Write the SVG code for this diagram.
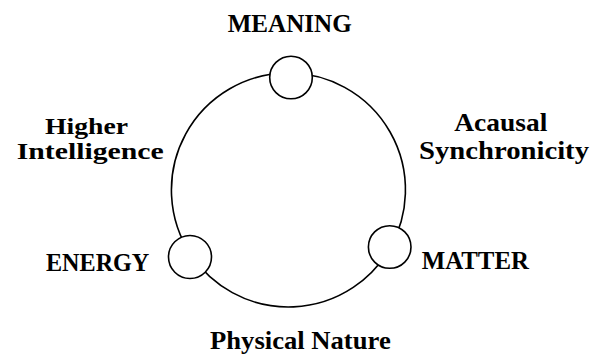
<svg xmlns="http://www.w3.org/2000/svg" width="591" height="356" viewBox="0 0 591 356">
<style>
.ring{fill:none;stroke:#000;stroke-width:1.6}
.node{fill:#fff;stroke:#000;stroke-width:1.6}
text{font-family:"Liberation Serif","Times New Roman",serif;font-weight:bold;font-size:26px;fill:#000}
.sm{font-size:24px}
</style>
<rect width="591" height="356" fill="#fff"/>
<g id="connectors">
<path class="ring" d="M291.1,73 A117,117 0 0 1 390.5,247.2"/>
<path class="ring" d="M390.5,247.2 A117,117 0 0 1 191.7,255.8"/>
<path class="ring" d="M191.7,255.8 A117,117 0 0 1 291.1,73"/>
<text class="sm" x="45" y="134" textLength="83" lengthAdjust="spacingAndGlyphs">Higher</text>
<text class="sm" x="16.7" y="158.5" textLength="147" lengthAdjust="spacingAndGlyphs">Intelligence</text>
<text x="454.3" y="131" textLength="93" lengthAdjust="spacingAndGlyphs">Acausal</text>
<text x="419" y="159" textLength="170" lengthAdjust="spacingAndGlyphs">Synchronicity</text>
<text x="210" y="349.3" textLength="180.7" lengthAdjust="spacingAndGlyphs">Physical Nature</text>
</g>
<g id="meaning">
<circle class="node" cx="291" cy="77.5" r="21.3"/>
<text x="227.7" y="31.7" textLength="124" lengthAdjust="spacingAndGlyphs">MEANING</text>
</g>
<g id="energy">
<circle class="node" cx="190" cy="257" r="21.5"/>
<text x="46" y="270.7" textLength="103.3" lengthAdjust="spacingAndGlyphs">ENERGY</text>
</g>
<g id="matter">
<circle class="node" cx="389.7" cy="247" r="21.3"/>
<text x="421.7" y="269.3" textLength="107.3" lengthAdjust="spacingAndGlyphs">MATTER</text>
</g>
</svg>
